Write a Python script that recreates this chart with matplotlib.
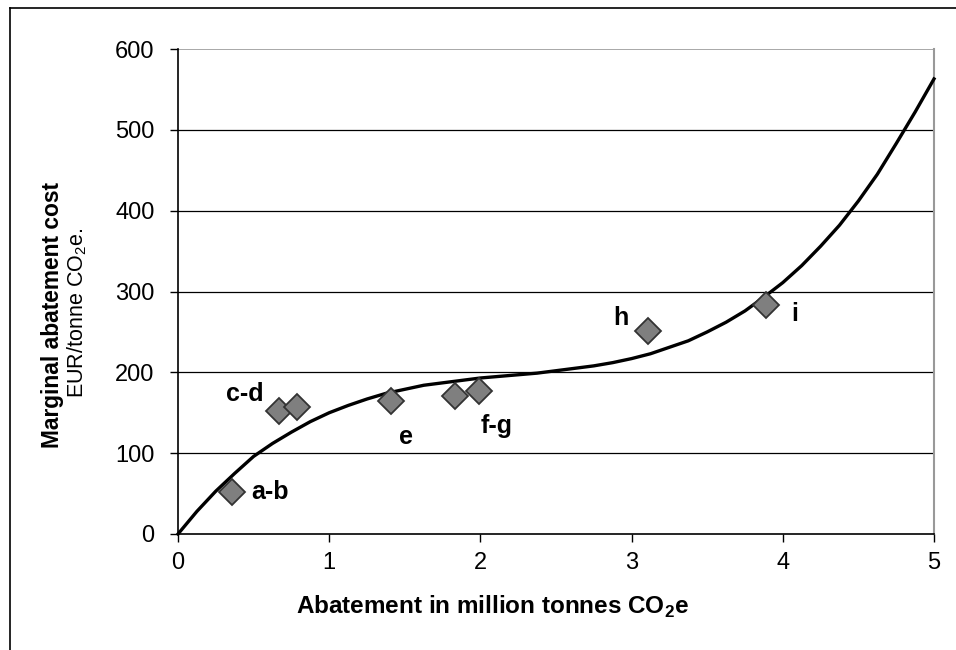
import matplotlib
matplotlib.use("Agg")
import matplotlib.pyplot as plt
from matplotlib.lines import Line2D

plt.rcParams["font.family"] = ["Liberation Sans", "DejaVu Sans"]

# measure points (million tonnes, EUR/tonne)
point_x = [0.36, 0.67, 0.79, 1.41, 1.83, 1.99, 3.11, 3.89]
point_y = [52, 152, 157, 164, 171, 177, 251, 283]

# group labels and where they sit
labels = ["a-b", "c-d", "e", "f-g", "h", "i"]
label_x = [0.61, 0.44, 1.51, 2.11, 2.93, 4.08]
label_y = [52, 173, 120, 134, 267, 272]

# trend curve
curve_x = [0, 0.125, 0.25, 0.375, 0.5, 0.625, 0.75, 0.875,
           1.0, 1.125, 1.25, 1.375, 1.5, 1.625, 1.75, 1.875,
           2.0, 2.125, 2.25, 2.375, 2.5, 2.625, 2.75, 2.875,
           3.0, 3.125, 3.25, 3.375, 3.5, 3.625, 3.75, 3.875,
           4.0, 4.125, 4.25, 4.375, 4.5, 4.625, 4.75, 4.875, 5.0]
curve_y = [0, 28, 53, 75, 96, 112, 126, 139,
           150, 159, 167, 174, 179, 184, 187, 190,
           193, 195, 197, 199, 202, 205, 208, 212,
           217, 223, 231, 239, 250, 262, 276, 293,
           311, 332, 356, 382, 412, 445, 483, 522, 563]

fig = plt.figure(figsize=(9.56, 6.5), dpi=100)
ax = fig.add_axes([178 / 956, 1 - 534 / 650, (934 - 178) / 956, (534 - 49) / 650])

# outer frame (top and left only visible)
fig.add_artist(Line2D([10 / 956, 10 / 956], [0, 1 - 8 / 650], color="black", lw=1.2))
fig.add_artist(Line2D([10 / 956, 1], [1 - 8 / 650, 1 - 8 / 650], color="black", lw=1.2))

for yv in range(100, 600, 100):
    ax.axhline(yv, color="black", lw=0.9, zorder=1)
ax.axhline(600, color="#999999", lw=1.2, zorder=1)

ax.plot(curve_x, curve_y, color="black", lw=2.4, zorder=3, clip_on=False,
        solid_joinstyle="round")
ax.plot(point_x, point_y, linestyle="none", marker="D", ms=13,
        markerfacecolor="#7f7f7f", markeredgecolor="#333333", markeredgewidth=1.3, zorder=4)

for t, lx, ly in zip(labels, label_x, label_y):
    ax.text(lx, ly, t, fontsize=18, fontweight="bold", ha="center", va="center", zorder=5)

ax.set_xlim(0, 5)
ax.set_ylim(0, 600)
ax.set_xticks(range(0, 6))
ax.set_yticks(range(0, 700, 100))
ax.tick_params(labelsize=17, length=6, width=1, direction="out")
ax.tick_params(axis="y", pad=11)
ax.tick_params(axis="x", pad=7)
ax.spines["top"].set_visible(False)
ax.spines["right"].set_color("#999999")
ax.spines["right"].set_linewidth(1.5)
ax.spines["left"].set_linewidth(1.2)
ax.spines["bottom"].set_linewidth(1.2)

fig.text(492 / 956, 1 - 607 / 650, "Abatement in million tonnes CO$_\\mathregular{2}$e",
         fontsize=17.5, fontweight="bold", ha="center", va="center")
fig.text(53 / 956, 1 - 315 / 650, "Marginal abatement cost",
         fontsize=16.4, fontweight="bold", rotation=90, ha="center", va="center")
fig.text(77 / 956, 1 - 313 / 650, "EUR/tonne CO$_\\mathregular{2}$e.",
         fontsize=15.5, rotation=90, ha="center", va="center")

fig.savefig("out.png", dpi=100)
